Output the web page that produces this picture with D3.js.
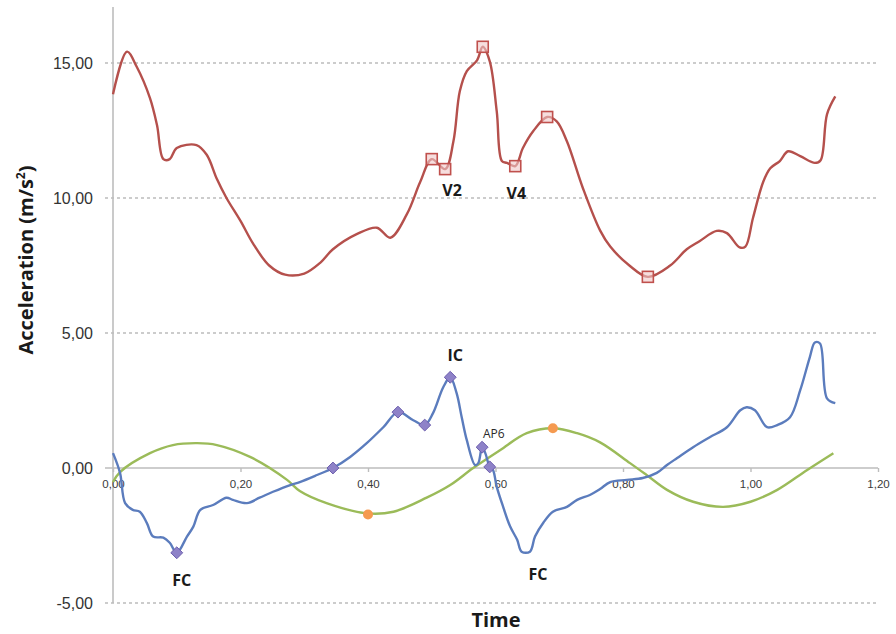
<!DOCTYPE html>
<html>
<head>
  <meta charset="utf-8">
  <title>Acceleration</title>
  <style>
    body { margin: 0; background: white; font-family: "Open Sans", "DejaVu Sans", sans-serif; }
    svg .grid { stroke: #bcbcbc; stroke-dasharray: 3 3; stroke-width: 1.3; }
    svg .axisline { stroke: #bdbdbd; stroke-width: 1.6; }
    svg .ylab { font-size: 16px; fill: #333; }
    svg .xlab { font-size: 11.5px; fill: #3a3a3a; }
    svg .note { font-size: 16px; font-weight: bold; fill: #1a1a1a; }
  </style>
</head>
<body>
  <div id="chart"></div>
  <script src="https://cdn.jsdelivr.net/npm/d3@7"></script>
  <script>
    const width = 896, height = 634;

    // red trace
    const redT = [0, 0.022, 0.037, 0.058, 0.069, 0.079, 0.089, 0.1, 0.131, 0.147, 0.163, 0.178, 0.2, 0.22, 0.245, 0.27, 0.3, 0.325, 0.345, 0.383, 0.414, 0.435, 0.461, 0.482, 0.5, 0.521, 0.534, 0.544, 0.555, 0.571, 0.58, 0.591, 0.602, 0.61, 0.618, 0.631, 0.643, 0.659, 0.681, 0.696, 0.712, 0.737, 0.764, 0.78, 0.81, 0.839, 0.874, 0.9, 0.92, 0.947, 0.963, 0.983, 0.992, 1.004, 1.02, 1.031, 1.046, 1.059, 1.078, 1.101, 1.11, 1.12, 1.133];
    const redV = [13.84, 15.42, 14.87, 13.7, 12.7, 11.44, 11.44, 11.85, 11.96, 11.6, 10.7, 10.0, 9.15, 8.3, 7.5, 7.16, 7.2, 7.6, 8.1, 8.67, 8.9, 8.53, 9.4, 10.6, 11.44, 11.07, 12.1, 13.95, 14.7, 15.1, 15.6, 15.06, 13.2, 11.37, 11.3, 11.18, 11.85, 12.47, 13.0, 12.84, 12.1, 10.37, 8.8, 8.2, 7.5, 7.08, 7.5, 8.1, 8.4, 8.78, 8.7, 8.17, 8.2, 9.27, 10.6, 11.1, 11.37, 11.73, 11.55, 11.3, 11.4, 13.1, 13.76];
    const redMarks = [[0.5, 11.44], [0.521, 11.07], [0.58, 15.6], [0.631, 11.18], [0.681, 13.0], [0.839, 7.08]];

    // blue trace
    const blueT = [0, 0.011, 0.019, 0.031, 0.042, 0.053, 0.063, 0.079, 0.089, 0.1, 0.116, 0.126, 0.137, 0.157, 0.178, 0.188, 0.21, 0.23, 0.251, 0.278, 0.293, 0.32, 0.345, 0.372, 0.398, 0.424, 0.447, 0.471, 0.489, 0.502, 0.518, 0.529, 0.539, 0.547, 0.555, 0.568, 0.573, 0.579, 0.584, 0.591, 0.596, 0.602, 0.612, 0.623, 0.634, 0.641, 0.654, 0.662, 0.675, 0.69, 0.712, 0.728, 0.748, 0.764, 0.78, 0.806, 0.831, 0.853, 0.869, 0.885, 0.91, 0.936, 0.963, 0.984, 0.994, 1.007, 1.026, 1.042, 1.062, 1.078, 1.093, 1.101, 1.109, 1.12, 1.133];
    const blueV = [0.55, -0.18, -1.3, -1.55, -1.62, -2.03, -2.54, -2.58, -2.77, -3.14, -2.54, -2.17, -1.55, -1.37, -1.1, -1.18, -1.3, -1.1, -0.88, -0.63, -0.52, -0.26, 0.0, 0.41, 0.92, 1.51, 2.07, 1.77, 1.59, 2.03, 2.99, 3.36, 2.77, 1.88, 1.03, 0.11, 0.18, 0.77, 0.55, 0.04, -0.07, -0.7, -1.44, -2.17, -2.66, -3.1, -3.1, -2.54, -2.03, -1.62, -1.44, -1.18, -1.0, -0.78, -0.52, -0.44, -0.37, -0.18, 0.11, 0.37, 0.77, 1.14, 1.51, 2.14, 2.25, 2.14, 1.51, 1.59, 1.88, 2.88, 4.1, 4.65, 4.61, 2.58, 2.4];
    const blueMarks = [[0.1, -3.14], [0.345, 0.0], [0.447, 2.07], [0.489, 1.59], [0.529, 3.36], [0.579, 0.77], [0.591, 0.04]];

    // green trace
    const greenT = [0, 0.011, 0.058, 0.094, 0.132, 0.163, 0.215, 0.273, 0.293, 0.335, 0.398, 0.44, 0.492, 0.529, 0.565, 0.607, 0.649, 0.69, 0.728, 0.764, 0.811, 0.837, 0.869, 0.91, 0.957, 1.0, 1.042, 1.089, 1.13];
    const greenV = [-0.52, -0.15, 0.55, 0.85, 0.92, 0.85, 0.41, -0.44, -0.85, -1.3, -1.68, -1.62, -1.1, -0.63, 0.0, 0.66, 1.29, 1.47, 1.29, 0.95, 0.18, -0.26, -0.81, -1.25, -1.44, -1.25, -0.81, -0.07, 0.55];
    const orangeMarks = [[0.4, -1.72], [0.69, 1.47]];

    const xTicks = [0, 0.2, 0.4, 0.6, 0.8, 1.0, 1.2];
    const yTicks = [-5, 0, 5, 10, 15];

    const notes = [
      { t: 0.521, v: 11.07, text: "V2", dx: 7, dy: 27 },
      { t: 0.631, v: 11.18, text: "V4", dx: 1, dy: 33 },
      { t: 0.529, v: 3.36, text: "IC", dx: 5, dy: -16 },
      { t: 0.1, v: -3.14, text: "FC", dx: 5, dy: 33 },
      { t: 0.654, v: -3.1, text: "FC", dx: 8, dy: 28 }
    ];

    const fmt = v => d3.format(".2f")(v).replace(".", ",").replace("\u2212", "-");

    const x = d3.scaleLinear().domain([0, 1.2]).range([113, 878]);
    const y = d3.scaleLinear().domain([-5, 17]).range([603, 9]);

    const svg = d3.select("#chart").append("svg")
      .attr("width", width).attr("height", height);

    // gridlines
    svg.selectAll(".grid").data(yTicks.filter(d => d !== 0)).enter().append("line")
      .attr("class", "grid")
      .attr("x1", 105).attr("x2", x(1.2))
      .attr("y1", d => y(d)).attr("y2", d => y(d));

    // y axis
    const yAxis = svg.append("g").attr("transform", `translate(${x(0)},0)`)
      .call(d3.axisLeft(y).tickValues(yTicks).tickFormat(fmt).tickSize(0).tickPadding(20));
    yAxis.select(".domain").attr("class", "axisline").attr("d", `M0,${y(17) - 2}V${y(-5)}`);
    yAxis.selectAll("text").attr("class", "ylab").attr("font-family", null).attr("font-size", null);

    // x axis at zero
    const xAxis = svg.append("g").attr("transform", `translate(0,${y(0)})`)
      .call(d3.axisBottom(x).tickValues(xTicks).tickFormat(fmt).tickSize(4).tickPadding(8));
    xAxis.select(".domain").attr("class", "axisline").attr("d", `M105,0H${x(1.2)}`);
    xAxis.selectAll(".tick line").attr("stroke", "#bdbdbd").attr("stroke-width", 1.4);
    xAxis.selectAll("text").attr("class", "xlab").attr("font-family", null).attr("font-size", null);

    const line = d3.line().x(d => x(d[0])).y(d => y(d[1])).curve(d3.curveCatmullRom.alpha(0.5));
    const zip = (a, b) => a.map((t, i) => [t, b[i]]);

    svg.append("path").datum(zip(greenT, greenV)).attr("d", line)
      .attr("fill", "none").attr("stroke", "#9bbb59").attr("stroke-width", 2.4);
    svg.append("path").datum(zip(blueT, blueV)).attr("d", line)
      .attr("fill", "none").attr("stroke", "#5b7cbd").attr("stroke-width", 2.4);
    svg.append("path").datum(zip(redT, redV)).attr("d", line)
      .attr("fill", "none").attr("stroke", "#b5504c").attr("stroke-width", 2.4);

    // markers
    svg.selectAll(".sq").data(redMarks).enter().append("rect")
      .attr("x", d => x(d[0]) - 5.5).attr("y", d => y(d[1]) - 5.5)
      .attr("width", 11).attr("height", 11)
      .attr("fill", "rgba(240,200,200,0.6)").attr("stroke", "#c0504d").attr("stroke-width", 1.6);

    const diamond = d3.symbol().type(d3.symbolDiamond2).size(90);
    svg.selectAll(".dm").data(blueMarks).enter().append("path")
      .attr("d", diamond)
      .attr("transform", d => `translate(${x(d[0])},${y(d[1])})`)
      .attr("fill", "#8e82c8").attr("stroke", "#6d5fae").attr("stroke-width", 1);

    svg.selectAll(".or").data(orangeMarks).enter().append("circle")
      .attr("cx", d => x(d[0])).attr("cy", d => y(d[1])).attr("r", 5)
      .attr("fill", "#f59a50");

    // annotations
    svg.selectAll(".note").data(notes).enter().append("text")
      .attr("class", "note")
      .attr("x", d => x(d.t) + d.dx).attr("y", d => y(d.v) + d.dy)
      .attr("text-anchor", "middle")
      .text(d => d.text);

    svg.append("text").attr("x", 483).attr("y", 438)
      .attr("font-size", 12).attr("fill", "#2a2a2a").text("AP6");

    // axis titles
    svg.append("text").attr("x", 496).attr("y", 627)
      .attr("text-anchor", "middle").attr("font-size", 20).attr("font-weight", "bold")
      .attr("fill", "#1a1a1a").text("Time");

    const yt = svg.append("text")
      .attr("transform", "translate(33,260) rotate(-90)")
      .attr("text-anchor", "middle").attr("font-size", 20).attr("font-weight", "bold")
      .attr("fill", "#1a1a1a");
    yt.append("tspan").text("Acceleration (m/s");
    yt.append("tspan").attr("font-size", 12).attr("dy", -8).text("2");
    yt.append("tspan").attr("dy", 8).text(")");
  </script>
</body>
</html>
